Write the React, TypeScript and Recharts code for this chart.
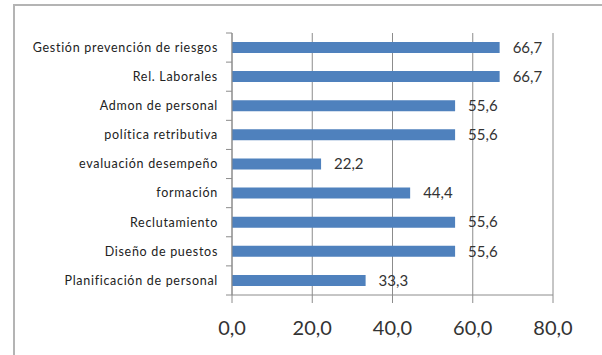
import { BarChart, Bar, XAxis, YAxis, CartesianGrid, LabelList } from 'recharts';

const areas = [
  'Gestión prevención de riesgos',
  'Rel. Laborales',
  'Admon de personal',
  'política retributiva',
  'evaluación desempeño',
  'formación',
  'Reclutamiento',
  'Diseño de puestos',
  'Planificación de personal',
];
const percentages = [66.7, 66.7, 55.6, 55.6, 22.2, 44.4, 55.6, 55.6, 33.3];
const xTicks = [0, 20, 40, 60, 80];

const data = areas.map((area, i) => ({ area, value: percentages[i] }));

const FONT = 'Lato, "Open Sans", sans-serif';
const AXIS_GRAY = '#8c8c8c';

const fmt = (v: number) => v.toFixed(1).replace('.', ',');

// category label plus the boundary tick marks between bands
function AreaTick(props: any) {
  const { x, y, payload, index } = props;
  const half = payload?.offset ?? 14.5;
  return (
    <g>
      <line x1={x + 8} x2={x + 14} y1={y - half} y2={y - half} stroke={AXIS_GRAY} />
      {index === areas.length - 1 && (
        <line x1={x + 8} x2={x + 14} y1={y + half} y2={y + half} stroke={AXIS_GRAY} />
      )}
      <text
        x={x}
        y={y}
        dy="0.35em"
        textAnchor="end"
        fontSize={12.5}
        letterSpacing={0.7}
        fill="#222"
        fontFamily={FONT}
      >
        {payload.value}
      </text>
    </g>
  );
}

export default function App() {
  return (
    <div
      style={{
        position: 'fixed',
        left: 0,
        top: 0,
        width: 602,
        height: 355,
        overflow: 'hidden',
        background: '#fff',
      }}
    >
      <div
        style={{
          position: 'absolute',
          left: 13,
          top: 4,
          width: 640,
          height: 400,
          border: '2px solid #b4b4b4',
        }}
      />
      <div style={{ position: 'absolute', left: 0, top: 0 }}>
        <BarChart
          width={602}
          height={355}
          data={data}
          layout="vertical"
          margin={{ top: 33, right: 49, bottom: 0, left: 0 }}
          barSize={11}
        >
          <CartesianGrid horizontal={false} stroke={AXIS_GRAY} />
          <XAxis
            type="number"
            domain={[0, 80]}
            ticks={xTicks}
            tickFormatter={fmt}
            stroke={AXIS_GRAY}
            tickSize={8}
            tickMargin={18}
            height={60}
            tick={{ fontSize: 20, fill: '#333', fontFamily: FONT }}
          />
          <YAxis
            type="category"
            dataKey="area"
            width={232}
            stroke={AXIS_GRAY}
            tickLine={false}
            tickSize={6}
            tickMargin={8}
            interval={0}
            tick={<AreaTick />}
          />
          <Bar dataKey="value" fill="#4F81BD" isAnimationActive={false}>
            <LabelList
              dataKey="value"
              position="right"
              offset={13}
              formatter={(v: any) => fmt(Number(v))}
              style={{ fontSize: 15, fill: '#333', fontFamily: FONT }}
            />
          </Bar>
        </BarChart>
      </div>
    </div>
  );
}
